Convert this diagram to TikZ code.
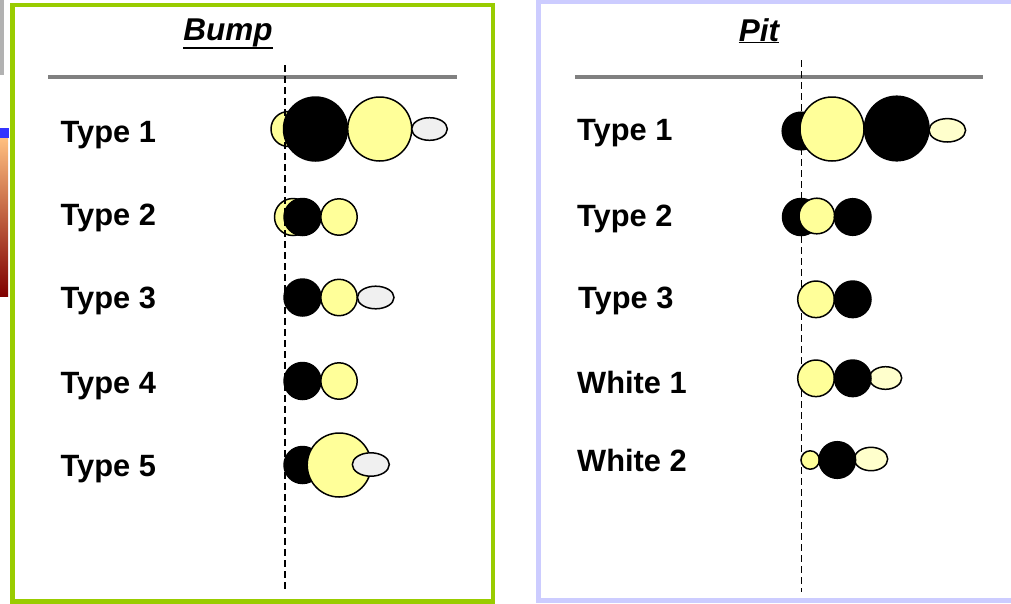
\documentclass[tikz,border=0pt]{standalone}
\usepackage{fontspec}
\setmainfont{Liberation Sans}
\definecolor{bumpgreen}{HTML}{99CC00}
\definecolor{pitblue}{HTML}{CCCCFF}
\definecolor{ruler}{HTML}{808080}
\definecolor{pale}{HTML}{FFFF99}
\definecolor{paler}{HTML}{FFFFCC}
\definecolor{shell}{HTML}{F0F0F0}
\tikzset{
  yel/.style={draw=black, fill=pale, line width=1.5pt},
  blk/.style={draw=black, fill=black, line width=1.5pt},
  gry/.style={draw=black, fill=shell, line width=1.5pt},
  lyel/.style={draw=black, fill=paler, line width=1.5pt},
  lab/.style={anchor=base west, inner sep=0pt, font=\fontsize{30.8}{36}\selectfont\bfseries},
  ttl/.style={anchor=base, inner sep=0pt, font=\fontsize{31.5}{36}\selectfont\bfseries\itshape},
  uline/.style={line width=1.8pt},
  axis/.style={black, line width=1.5pt, dash pattern=on 7pt off 4pt}
}
\begin{document}
\begin{tikzpicture}[x=1pt,y=-1pt]
\useasboundingbox (0,0) rectangle (1011,603);
\clip (0,0) rectangle (1011,603);

% bits of other windows at the left edge
\fill[gray!60] (0,0) rectangle (3.5,75);
\fill[blue!80] (0,128) rectangle (9,138);
\shade[top color=orange!50, bottom color=red!50!black] (0,138) rectangle (8,296);

% panel frames
\draw[bumpgreen, line width=4.5pt] (12.5,5) rectangle (492.8,601.5);
\draw[pitblue, line width=5pt] (538.5,1.5) rectangle (1025,600);

% titles
\node[ttl] (bump) at (228,40) {Bump};
\draw[uline] ([yshift=-1pt]bump.south west) -- ([yshift=-1pt]bump.south east);
\node[ttl] (pit) at (759,41) {Pit};
\draw[uline] ([yshift=-1pt]pit.south west) -- ([yshift=-1pt]pit.south east);

% rules
\draw[ruler, line width=4pt] (48,77.3) -- (457,77.3);
\draw[ruler, line width=4pt] (575,77.3) -- (983,77.3);

% row labels, bump side
\node[lab] (b1) at (60.5,142) {Type 1};
\node[lab] (b2) at (60.5,225.5) {Type 2};
\node[lab] (b3) at (60.5,308) {Type 3};
\node[lab] (b4) at (60.5,393.5) {Type 4};
\node[lab] (b5) at (60.5,476) {Type 5};

% row labels, pit side
\node[lab] (p1) at (577,140.5) {Type 1};
\node[lab] (p2) at (577,226) {Type 2};
\node[lab] (p3) at (578,308.5) {Type 3};
\node[lab] (p4) at (577,393.3) {White 1};
\node[lab] (p5) at (577,471) {White 2};

% circles that sit behind the centre line
\draw[yel] (288.5,129) circle (17.5pt);
\draw[yel] (293,217) circle (18.5pt);
\draw[blk] (801,131) circle (18.8pt);
\draw[blk] (801,217) circle (18.5pt);

% centre lines
\draw[axis] (285,65) -- (285,592);
\draw[axis] (801.7,60) -- (801.7,592);

% bump, type 1
\draw[blk] (315.5,129) circle (32pt);
\draw[yel] (379.7,129) circle (32pt);
\draw[gry] (429.5,129) ellipse (17.8pt and 11.3pt);
% bump, type 2
\draw[blk] (302.5,217) circle (18.5pt);
\draw[yel] (339,217) circle (18.2pt);
% bump, type 3
\draw[blk] (302.5,297.5) circle (18.5pt);
\draw[yel] (339,297.5) circle (18.2pt);
\draw[gry] (375.7,297.5) ellipse (18.3pt and 11.3pt);
% bump, type 4
\draw[blk] (302.5,381) circle (18.5pt);
\draw[yel] (339,381) circle (18.2pt);
% bump, type 5
\draw[blk] (302.5,465) circle (18.5pt);
\draw[yel] (339.2,465) circle (32pt);
\draw[gry] (370.8,464.5) ellipse (18.5pt and 11.7pt);

% pit, type 1
\draw[yel] (832,129) circle (32pt);
\draw[blk] (896.7,128.5) circle (32.3pt);
\draw[lyel] (947.3,130.3) ellipse (18.3pt and 11.7pt);
% pit, type 2
\draw[yel] (816.8,216) circle (17.8pt);
\draw[blk] (852.7,217) circle (18.3pt);
% pit, type 3
\draw[yel] (816,299.3) circle (18.3pt);
\draw[blk] (852.7,299.3) circle (18.3pt);
% pit, white 1
\draw[yel] (816,378.3) circle (18.3pt);
\draw[lyel] (885.5,378) ellipse (16.2pt and 11.3pt);
\draw[blk] (852.7,378.3) circle (18.3pt);
% pit, white 2
\draw[yel] (810.2,460) circle (9.2pt);
\draw[lyel] (871,459) ellipse (16.7pt and 11.7pt);
\draw[blk] (837.3,460) circle (18.3pt);
\end{tikzpicture}
\end{document}
